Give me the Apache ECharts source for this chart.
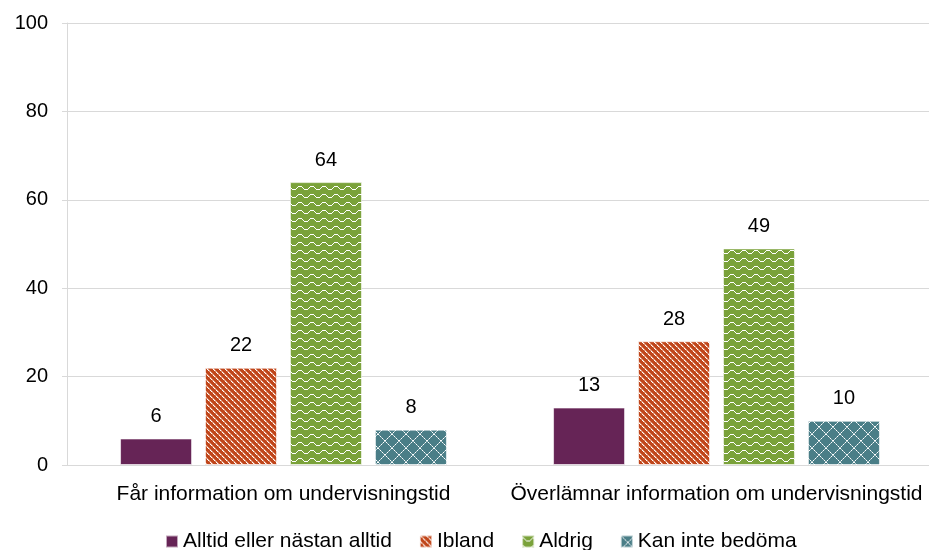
<!DOCTYPE html>
<html><head><meta charset="utf-8">
<script src="https://cdn.jsdelivr.net/npm/echarts@6/dist/echarts.min.js"></script>
<style>html,body{margin:0;padding:0;background:#fff;overflow:hidden}#c{width:933px;height:550px}</style>
</head><body><div id="c"></div>
<script>
const categories = ['Får information om undervisningstid', 'Överlämnar information om undervisningstid'];
const seriesNames = ['Alltid eller nästan alltid', 'Ibland', 'Aldrig', 'Kan inte bedöma'];
const alltid = [6, 13];
const ibland = [22, 28];
const aldrig = [64, 49];
const kanInte = [8, 10];
const yTicks = [0, 20, 40, 60, 80, 100];

function tile(w, h, bg, draw) {
  const c = document.createElement('canvas');
  c.width = w; c.height = h;
  const x = c.getContext('2d');
  x.fillStyle = bg; x.fillRect(0, 0, w, h);
  draw(x, w, h);
  return { image: c, repeat: 'repeat' };
}
const purple = '#662456';
const orangePat = tile(6, 6, '#C0461B', (x, w) => {
  for (let i = 0; i < w; i++) {
    x.fillStyle = (i % 3 === 2) ? 'rgba(255,220,200,0.6)' : '#ffffff';
    x.fillRect(i, i, 1, 1);
    x.fillStyle = 'rgba(255,230,215,0.5)';
    x.fillRect((i + 1) % w, i, 1, 1);
  }
});
const greenPat = tile(12, 8, '#7AA23A', (x, w) => {
  x.fillStyle = '#ffffff';
  let prev = null;
  for (let i = 0; i < w; i++) {
    const y = Math.round(3.5 - 2 * Math.cos(2 * Math.PI * (i + 0.5) / w));
    if (prev !== null && Math.abs(y - prev) > 1) {
      const a = Math.min(y, prev), b = Math.max(y, prev);
      x.fillRect(i, a, 1, b - a + 1);
    } else {
      x.fillRect(i, y, 1, 1);
    }
    prev = y;
  }
});
const tealPat = tile(14, 14, '#4A7E87', (x, w) => {
  for (let i = 0; i < w; i++) {
    x.fillStyle = (i % 2 === 0) ? '#ffffff' : 'rgba(255,255,255,0.6)';
    x.fillRect(i, i, 1, 1);
    x.fillRect(w - 1 - i, i, 1, 1);
  }
});

const font = 'Liberation Sans, Arial, sans-serif';
const fills = [purple, orangePat, greenPat, tealPat];
const dataSets = [alltid, ibland, aldrig, kanInte];

const chart = echarts.init(document.getElementById('c'), null, { renderer: 'canvas' });
chart.setOption({
  animation: false,
  backgroundColor: '#ffffff',
  grid: { left: 67, top: 23, bottom: 85, right: 0, containLabel: false },
  legend: {
    data: seriesNames,
    top: 526,
    left: 160,
    itemWidth: 12, itemHeight: 12, itemGap: 27,
    icon: 'rect',
    textStyle: { fontFamily: font, fontSize: 21, color: '#000' }
  },
  xAxis: {
    type: 'category',
    data: categories,
    axisLine: { lineStyle: { color: '#d9d9d9', width: 1 } },
    axisTick: { show: false },
    axisLabel: { fontFamily: font, fontSize: 21, color: '#000', margin: 19, interval: 0 }
  },
  yAxis: {
    type: 'value',
    min: yTicks[0], max: yTicks[yTicks.length - 1], interval: 20,
    axisLine: { show: true, lineStyle: { color: '#d9d9d9', width: 1 } },
    axisTick: { show: true, length: 5, lineStyle: { color: '#d9d9d9' } },
    splitLine: { lineStyle: { color: '#d9d9d9', width: 1 } },
    axisLabel: { fontFamily: font, fontSize: 20, color: '#000', margin: 19 }
  },
  series: seriesNames.map((n, i) => ({
    name: n,
    type: 'bar',
    data: dataSets[i],
    barWidth: 72,
    barGap: '18%',
    itemStyle: { color: fills[i], borderColor: 'rgba(255,255,255,0.6)', borderWidth: 1 },
    label: { show: true, position: 'top', distance: 12, fontFamily: font, fontSize: 20, color: '#000' }
  }))
});
</script></body></html>
